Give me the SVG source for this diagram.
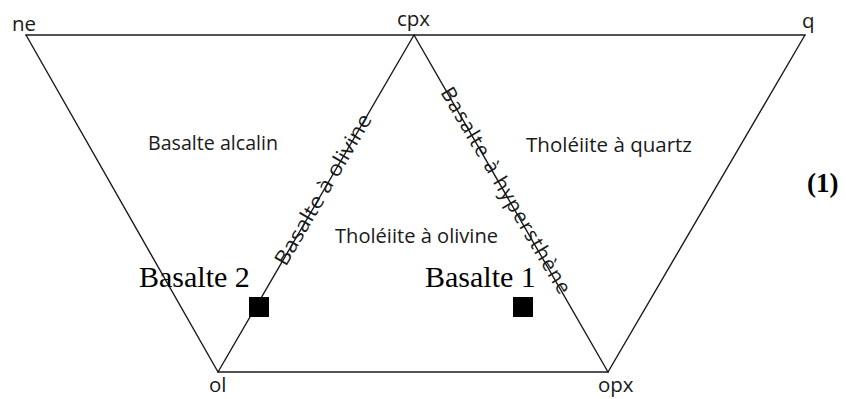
<svg xmlns="http://www.w3.org/2000/svg" width="846" height="399" viewBox="0 0 846 399">
  <style>
    .edge { stroke: #1a1a1a; stroke-width: 1.4; fill: none; stroke-linecap: round; }
    .lbl { font-family: "Open Sans", "Noto Sans", sans-serif; font-size: 20.5px; fill: #1a1a1a; }
    .sample { font-family: "Liberation Serif", "Times New Roman", serif; font-size: 30px; fill: #000; }
    .num { font-family: "Liberation Serif", "Times New Roman", serif; font-size: 27px; font-weight: bold; fill: #000; }
    .mark { fill: #000; }
  </style>
  <rect width="846" height="399" fill="#fff"/>

  <!-- edges of the ne-q-opx-ol projection and the cpx-ol-opx triangle -->
  <g id="connectors">
    <line class="edge" x1="26" y1="35" x2="805" y2="35"/>
    <line class="edge" x1="26" y1="35" x2="218" y2="372"/>
    <line class="edge" x1="805" y1="35" x2="608" y2="372"/>
    <line class="edge" x1="218" y1="372" x2="608" y2="372"/>
    <line class="edge" x1="414" y1="35" x2="218" y2="372"/>
    <line class="edge" x1="414" y1="35" x2="608" y2="372"/>
  </g>

  <!-- apexes -->
  <g id="ne"><text class="lbl" x="12" y="31">ne</text></g>
  <g id="cpx"><text class="lbl" x="397" y="26">cpx</text></g>
  <g id="q"><text class="lbl" x="802" y="28">q</text></g>
  <g id="ol"><text class="lbl" x="209" y="392">ol</text></g>
  <g id="opx"><text class="lbl" x="598" y="392">opx</text></g>

  <!-- fields -->
  <g id="basalte-alcalin"><text class="lbl" x="148" y="150" textLength="130" lengthAdjust="spacingAndGlyphs">Basalte alcalin</text></g>
  <g id="tholeiite-quartz"><text class="lbl" x="526" y="152" textLength="166" lengthAdjust="spacingAndGlyphs">Tholéiite à quartz</text></g>
  <g id="tholeiite-olivine"><text class="lbl" x="335" y="243" textLength="163" lengthAdjust="spacingAndGlyphs">Tholéiite à olivine</text></g>

  <!-- labels along the cpx-ol and cpx-opx joins -->
  <g id="basalte-olivine" transform="translate(324 190) rotate(-59.7)">
    <text class="lbl" x="0" y="6" text-anchor="middle" textLength="172" lengthAdjust="spacingAndGlyphs">Basalte à olivine</text>
  </g>
  <g id="basalte-hypersthene" transform="translate(505 191) rotate(59.5)">
    <text class="lbl" x="0" y="6" text-anchor="middle" textLength="236" lengthAdjust="spacing">Basalte à hypersthène</text>
  </g>

  <!-- samples -->
  <g id="basalte-2">
    <text class="sample" x="139" y="287">Basalte 2</text>
    <rect class="mark" x="249" y="297" width="20" height="20"/>
  </g>
  <g id="basalte-1">
    <text class="sample" x="425" y="287">Basalte 1</text>
    <rect class="mark" x="513" y="297" width="20" height="20"/>
  </g>

  <g id="fig-number"><text class="num" x="807" y="192">(1)</text></g>
</svg>
